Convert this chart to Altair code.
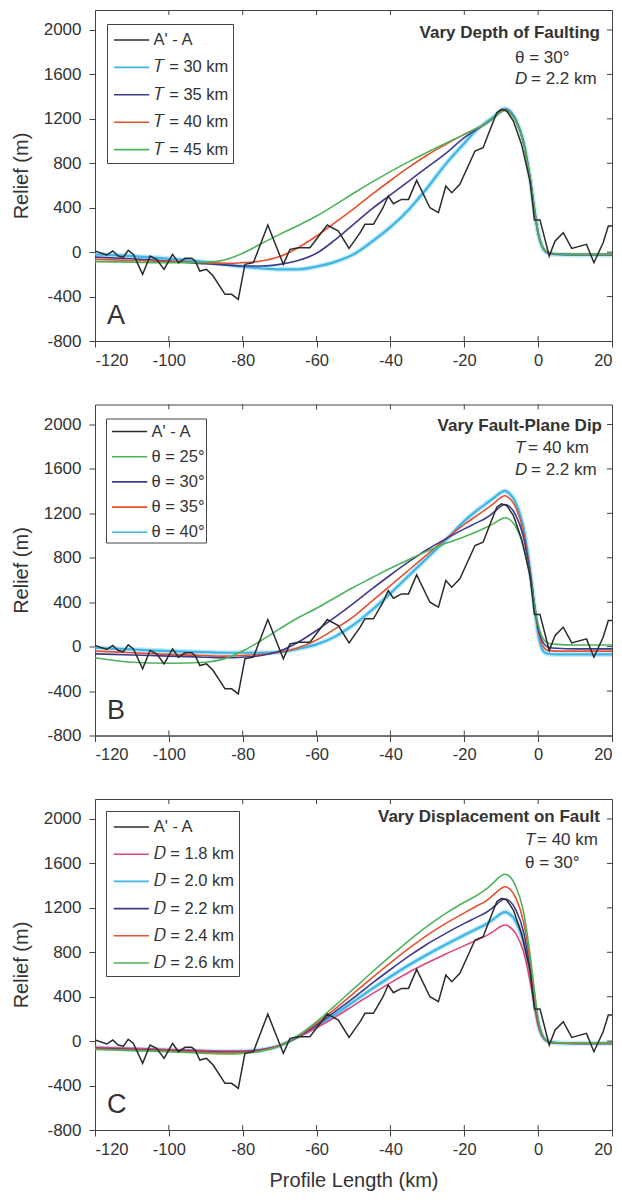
import altair as alt
import pandas as pd

FONT = "Liberation Sans"
TXT = "#333333"
AX = "#444444"

X_TICKS = [-120, -100, -80, -60, -40, -20, 0, 20]
Y_TICKS = [-800, -400, 0, 400, 800, 1200, 1600, 2000]

# observed profile A'-A
prof_x = [-120, -116.8, -115.2, -113.7, -112.3, -111.0, -109.6, -107.1, -105.1, -103.3, -101.3, -99.0,
          -97.4, -95.6, -93.8, -92.9, -91.6, -89.8, -88.0, -84.8, -83.0, -81.2, -79.4, -77.1, -73.2,
          -69.0, -67.2, -64.9, -61.8, -57.1, -54.1, -51.2, -48.2, -46.9, -44.6, -42.0, -40.6, -39.2,
          -37.0, -35.1, -32.9, -29.3, -27.0, -25.0, -23.4, -21.2, -17.1, -14.9, -13.0, -11.2, -9.9,
          -8.5, -6.7, -4.5, -2.2, -1.0, 0.5, 3.0, 4.6, 6.8, 9.1, 13.1, 15.1, 17.6, 19.0, 20.0]
prof_y = [10, -26, 10, -35, -45, 16, -20, -200, -35, -65, -155, -20,
          -95, -56, -56, -80, -170, -155, -215, -380, -380, -425, -110, -95, 244,
          -110, 25, 40, 40, 244, 190, 34, 175, 250, 250, 400, 505, 436,
          475, 475, 646, 400, 355, 595, 535, 610, 910, 940, 1105, 1255, 1285,
          1270, 1180, 970, 640, 290, 290, -35, 100, 175, 34, 70, -95, 85, 235, 235]

# model curves, sampled at model_x
model_x = [-120, -110, -100, -90, -85, -80, -75, -70, -65, -60, -55, -50, -45, -40, -35, -30, -25, -20,
           -17, -14, -12, -10, -9, -8, -6, -4, -2, -1, 0, 1, 2, 3, 5, 10, 15, 20]

base = [-65, -75, -85, -95, -100, -95, -80, -40, 40, 145, 265, 390, 520, 645, 765, 875, 970, 1060,
        1110, 1160, 1210, 1265, 1280, 1268, 1180, 990, 620, 380, 170, 60, 10, -8, -15, -20, -20, -20]

a_t30 = [-20, -35, -60, -90, -110, -130, -145, -155, -155, -130, -88, -20, 95, 225, 385, 580, 795, 980,
         1090, 1170, 1220, 1278, 1292, 1280, 1190, 1000, 625, 385, 170, 55, 5, -10, -20, -25, -25, -25]
a_t35 = [-45, -60, -80, -105, -115, -125, -125, -110, -75, -10, 110, 250, 390, 515, 640, 765, 890, 1030,
         1100, 1160, 1212, 1268, 1282, 1270, 1182, 995, 622, 382, 170, 58, 8, -9, -18, -22, -22, -22]
a_t45 = [-85, -90, -95, -90, -70, -10, 75, 160, 240, 325, 425, 530, 630, 725, 815, 900, 980, 1060,
         1110, 1160, 1210, 1262, 1275, 1262, 1178, 988, 618, 378, 170, 60, 10, -8, -15, -20, -20, -20]

b_d25 = [-100, -140, -150, -140, -110, -40, 55, 160, 260, 345, 440, 535, 620, 705, 785, 860, 930, 990,
         1030, 1075, 1110, 1150, 1160, 1150, 1075, 905, 590, 380, 200, 95, 45, 28, 20, 15, 15, 15]
b_d35 = [-40, -55, -70, -80, -85, -80, -70, -50, -10, 60, 160, 270, 410, 550, 690, 830, 970, 1100,
         1170, 1240, 1290, 1345, 1358, 1342, 1250, 1040, 630, 370, 150, 25, -22, -36, -40, -40, -40, -40]
b_d40 = [-10, -25, -40, -50, -55, -55, -55, -50, -20, 20, 90, 195, 330, 480, 640, 800, 960, 1130,
         1215, 1290, 1340, 1390, 1402, 1385, 1290, 1075, 640, 360, 115, -15, -58, -66, -70, -70, -70, -70]

c_d18 = [-55, -65, -75, -85, -90, -90, -75, -40, 35, 120, 215, 320, 425, 525, 620, 705, 785, 860,
         905, 950, 990, 1035, 1045, 1035, 965, 810, 510, 315, 140, 50, 8, -8, -15, -18, -18, -18]
c_d20 = [-60, -70, -80, -90, -95, -92, -78, -40, 40, 135, 240, 355, 470, 580, 685, 780, 870, 955,
         1005, 1055, 1100, 1150, 1162, 1150, 1075, 900, 565, 345, 155, 55, 9, -8, -15, -20, -20, -20]
c_d24 = [-70, -80, -90, -100, -105, -100, -85, -40, 45, 160, 290, 430, 570, 705, 835, 955, 1060, 1155,
         1210, 1265, 1320, 1375, 1390, 1378, 1285, 1080, 675, 415, 185, 65, 11, -8, -15, -20, -20, -20]
c_d26 = [-75, -85, -95, -110, -115, -110, -90, -45, 50, 175, 320, 470, 620, 765, 905, 1035, 1150, 1250,
         1305, 1370, 1430, 1490, 1502, 1490, 1390, 1170, 730, 450, 200, 70, 12, -8, -15, -15, -15, -15]

PROFILE = "A' - A"
BLACK, LBLUE, PURPLE, RED, GREEN, PINK = "#2b2b2b", "#3cb6e6", "#3d3b8e", "#e5502e", "#4db35a", "#e0457b"

names_a = [PROFILE, "𝑇 = 30 km", "𝑇 = 35 km", "𝑇 = 40 km", "𝑇 = 45 km"]
names_b = [PROFILE, "θ = 25°", "θ = 30°", "θ = 35°", "θ = 40°"]
names_c = [PROFILE, "𝐷 = 1.8 km", "𝐷 = 2.0 km", "𝐷 = 2.2 km", "𝐷 = 2.4 km", "𝐷 = 2.6 km"]

W, H = 517, 331


def text_mark(s, x, y, size=17, weight="normal", style="normal", align="left"):
    return alt.Chart(pd.DataFrame({"t": [s]})).mark_text(
        font=FONT, fontSize=size, fontWeight=weight, fontStyle=style, align=align,
        baseline="middle", color=TXT
    ).encode(text="t:N", x=alt.value(x), y=alt.value(y))


def panel(names, series, colors, draw_order, leg, notes, letter, xtitle):
    xaxis = dict(values=X_TICKS, labelExpr="'' + datum.value", labelFont=FONT, labelFontSize=16.5,
                 labelColor=TXT, tickColor=AX, domainColor=AX, tickSize=6, labelPadding=5,
                 grid=False, minExtent=30, maxExtent=30, titleFont=FONT, titleFontSize=20,
                 titleFontWeight="normal", titleColor=TXT, titlePadding=10,
                 title=xtitle if xtitle else None)
    xenc = alt.X("x:Q", scale=alt.Scale(domain=[-120, 20], nice=False, zero=False),
                 axis=alt.Axis(**xaxis))
    yenc = alt.Y("y:Q", scale=alt.Scale(domain=[-800, 2180], nice=False, zero=False),
                 axis=alt.Axis(values=Y_TICKS, labelExpr="'' + datum.value", title="Relief (m)",
                               labelFont=FONT, labelFontSize=17, labelColor=TXT, tickColor=AX,
                               domainColor=AX, tickSize=6, labelPadding=8, grid=False,
                               titleFont=FONT, titleFontSize=20, titleFontWeight="normal",
                               titleColor=TXT, titlePadding=12))
    color = alt.Color("s:N", scale=alt.Scale(domain=names, range=colors),
                      legend=alt.Legend(title=None, orient="none", legendX=leg["x"], legendY=leg["y"],
                                        padding=leg["p"], rowPadding=leg["rp"],
                                        symbolOffset=leg["so"], labelOffset=leg["lo"],
                                        symbolType="M-1.6,0L1.6,0", symbolSize=484,
                                        symbolStrokeWidth=1.6, symbolOpacity=1,
                                        strokeColor=AX, fillColor="white",
                                        labelFont=FONT, labelFontSize=16.5, labelColor=TXT,
                                        cornerRadius=0, labelLimit=200))

    layers = []
    for idx in draw_order:
        name = names[idx + 1]
        df = pd.DataFrame({"x": model_x, "y": series[idx], "s": [name] * len(model_x)})
        if colors[idx + 1] == LBLUE:
            layers.append(alt.Chart(df).mark_line(interpolate="monotone", clip=True,
                                                  strokeWidth=5, opacity=0.3).encode(
                x=xenc, y=yenc, color=color))
            layers.append(alt.Chart(df).mark_line(interpolate="monotone", clip=True,
                                                  strokeWidth=2.2).encode(
                x=xenc, y=yenc, color=color))
        else:
            layers.append(alt.Chart(df).mark_line(interpolate="monotone", clip=True,
                                                  strokeWidth=1.6).encode(
                x=xenc, y=yenc, color=color))
    prof_df = pd.DataFrame({"x": prof_x, "y": prof_y, "s": [PROFILE] * len(prof_x)})
    layers.append(alt.Chart(prof_df).mark_line(interpolate="linear", clip=True, strokeWidth=1.5).encode(
        x=xenc, y=yenc, color=color))

    layers.append(alt.Chart(pd.DataFrame({"x": X_TICKS[1:-1]})).mark_rule(color=AX).encode(
        x=xenc, y=alt.value(0), y2=alt.value(5)))
    layers.append(alt.Chart(pd.DataFrame({"x": X_TICKS[1:-1]})).mark_rule(color=AX).encode(
        x=xenc, y=alt.value(H - 5), y2=alt.value(H)))
    layers.append(alt.Chart(pd.DataFrame({"y": Y_TICKS[1:]})).mark_rule(color=AX).encode(
        y=yenc, x=alt.value(W - 5), x2=alt.value(W)))

    for n in notes:
        layers.append(text_mark(*n))
    layers.append(text_mark(letter, 12, 306, size=27))
    return alt.layer(*layers).properties(width=W, height=H)


pa = panel(names_a, [a_t30, a_t35, base, a_t45],
           [BLACK, LBLUE, PURPLE, RED, GREEN], [0, 1, 2, 3],
           dict(x=12, y=14, p=4, rp=6.4, so=8.6, lo=10),
           [("Vary Depth of Faulting", 505, 23, 17, "bold", "normal", "right"),
            ("θ = 30°", 420, 48),
            ("D", 420, 69, 17, "normal", "italic"),
            ("= 2.2 km", 436, 69)],
           "A", None)

pb = panel(names_b, [b_d25, base, b_d35, b_d40],
           [BLACK, GREEN, PURPLE, RED, LBLUE], [3, 2, 1, 0],
           dict(x=11, y=14, p=1, rp=4.2, so=10.6, lo=10),
           [("Vary Fault-Plane Dip", 507, 21, 17, "bold", "normal", "right"),
            ("T", 420, 43, 17, "normal", "italic"),
            ("= 40 km", 433, 43),
            ("D", 420, 65, 17, "normal", "italic"),
            ("= 2.2 km", 436, 65)],
           "B", None)

pc = panel(names_c, [c_d18, c_d20, base, c_d24, c_d26],
           [BLACK, PINK, LBLUE, PURPLE, RED, GREEN], [1, 0, 2, 3, 4],
           dict(x=11, y=12, p=4, rp=6.2, so=9.3, lo=10.4),
           [("Vary Displacement on Fault", 505, 18, 17, "bold", "normal", "right"),
            ("T", 430, 41, 17, "normal", "italic"),
            ("= 40 km", 442, 41),
            ("θ = 30°", 430, 64)],
           "C", "Profile Length (km)")

chart = alt.vconcat(pa, pb, pc, spacing=31.5).resolve_scale(
    color="independent"
).properties(
    padding={"left": 2, "top": 1, "right": 0, "bottom": 0}
).configure_view(stroke=AX, strokeWidth=1)

chart.save("out.html", embed_options={"renderer": "svg", "actions": False})
